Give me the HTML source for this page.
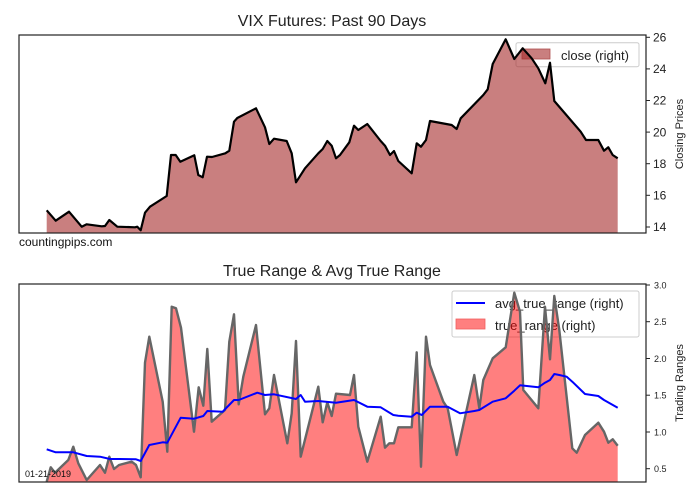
<!DOCTYPE html>
<html><head><meta charset="utf-8"><style>body{margin:0;background:#fff}svg{display:block}text{font-family:"Liberation Sans",sans-serif}</style></head><body>
<svg width="700" height="500" viewBox="0 0 700 500" xmlns="http://www.w3.org/2000/svg">
<rect width="700" height="500" fill="#fff"/>
<text x="332" y="26" font-size="16" text-anchor="middle" fill="#222">VIX Futures: Past 90 Days</text>
<rect x="516" y="42.7" width="123" height="24" rx="2" fill="#fff" fill-opacity="0.8" stroke="#ccc"/>
<rect x="522" y="49" width="28" height="10" fill="#a52a2a" fill-opacity="0.6" stroke="#b05050" stroke-width="0.8"/>
<text x="561" y="60" font-size="13" fill="#222">close (right)</text>
<polygon fill="#a52a2a" fill-opacity="0.6" points="46.7,233 46.7,210.3 55.7,220.7 69,211.7 81.7,226.7 86.7,224.3 101.7,226.3 105,226 109.3,220 117.3,226.7 135,227.3 137.3,226.7 140.7,230.3 145,212.7 150,206.7 166.7,196 171,155 175.7,155 180.3,161.7 194.3,155.3 198.3,175 202.7,177.3 207,156.7 212,157 225.3,153.3 229.3,150.7 234,121.7 237.3,118 256,108.3 265,127.3 269.3,144 274,138.7 286.7,141 291.7,153.3 296,182.3 305,168.3 318.3,153.3 322.7,149 327.3,141 331.7,145.7 336,158.3 340,155 349.3,142.3 354,125.7 358.3,130 367.3,124 380.7,141 385,145.7 390,155 394,151 398.3,161 411.7,173.3 416.7,143.3 421,146.7 426,140 430,121 451.7,125 456.7,129 460.7,118.3 483.3,95 487.7,89.3 492.7,64 505.7,39.3 514.3,59 522.7,48.3 531.7,58.3 538.3,68.3 545.3,83.3 550,62.7 554.3,101 580.7,131.7 586,140 598.3,140 604,150.7 608.3,147.3 612.7,155 617.7,158.3 617.7,233"/>
<polyline fill="none" stroke="#000" stroke-width="2.2" stroke-linejoin="round" points="46.7,210.3 55.7,220.7 69,211.7 81.7,226.7 86.7,224.3 101.7,226.3 105,226 109.3,220 117.3,226.7 135,227.3 137.3,226.7 140.7,230.3 145,212.7 150,206.7 166.7,196 171,155 175.7,155 180.3,161.7 194.3,155.3 198.3,175 202.7,177.3 207,156.7 212,157 225.3,153.3 229.3,150.7 234,121.7 237.3,118 256,108.3 265,127.3 269.3,144 274,138.7 286.7,141 291.7,153.3 296,182.3 305,168.3 318.3,153.3 322.7,149 327.3,141 331.7,145.7 336,158.3 340,155 349.3,142.3 354,125.7 358.3,130 367.3,124 380.7,141 385,145.7 390,155 394,151 398.3,161 411.7,173.3 416.7,143.3 421,146.7 426,140 430,121 451.7,125 456.7,129 460.7,118.3 483.3,95 487.7,89.3 492.7,64 505.7,39.3 514.3,59 522.7,48.3 531.7,58.3 538.3,68.3 545.3,83.3 550,62.7 554.3,101 580.7,131.7 586,140 598.3,140 604,150.7 608.3,147.3 612.7,155 617.7,158.3"/>
<rect x="19" y="35" width="627" height="198" fill="none" stroke="#222" stroke-width="1.2"/>
<g stroke="#222" stroke-width="1"><line x1="646" x2="650" y1="37.3" y2="37.3"/><line x1="646" x2="650" y1="68.9" y2="68.9"/><line x1="646" x2="650" y1="100.5" y2="100.5"/><line x1="646" x2="650" y1="132.1" y2="132.1"/><line x1="646" x2="650" y1="163.7" y2="163.7"/><line x1="646" x2="650" y1="195.3" y2="195.3"/><line x1="646" x2="650" y1="227" y2="227"/></g>
<g font-size="12" fill="#222"><text x="653" y="41.5">26</text><text x="653" y="73">24</text><text x="653" y="104.7">22</text><text x="653" y="136.3">20</text><text x="653" y="168">18</text><text x="653" y="199.5">16</text><text x="653" y="231">14</text></g>
<text transform="translate(683,134) rotate(-90)" font-size="11" text-anchor="middle" fill="#222">Closing Prices</text>
<text x="19" y="246" font-size="12" fill="#111">countingpips.com</text>

<text x="332" y="276" font-size="16" text-anchor="middle" fill="#222">True Range &amp; Avg True Range</text>
<rect x="452" y="291" width="187" height="46" rx="2" fill="#fff" fill-opacity="0.8" stroke="#ccc"/>
<line x1="456" x2="485" y1="303" y2="303" stroke="#0000ff" stroke-width="2"/>
<rect x="456" y="319" width="29" height="10" fill="#ff0000" fill-opacity="0.5" stroke="#f06060" stroke-width="0.8"/>
<text x="495" y="308" font-size="13" fill="#222">avg_true_range (right)</text>
<text x="495" y="330" font-size="13" fill="#222">true_range (right)</text>
<polygon fill="#ff0000" fill-opacity="0.5" points="46.7,482 46.7,481.7 50.7,467.3 55,472.7 68.3,460 73.3,446.7 78.3,463.3 86.7,480 100,465 105,472.7 109.3,456.7 114,469 119,465 131.7,461.7 136,465 140.7,477.3 145,362.7 149.3,336.7 162.7,401.7 167.3,451.7 171.7,306.7 176,308.3 181,327.7 194,431.7 198.7,387.3 203.3,405.7 207.3,349 211.7,421.7 225,410 229.3,341.7 234,314.3 238.7,404.3 243.3,376.7 256,325 265,414.3 269.3,408.3 274,375 287.3,443.3 291.7,413.3 296,341 300.7,456.7 318.3,386.7 322.7,422.3 327.3,402.3 331.7,416 336,393.7 350,395 354,375 358.3,426.7 367.3,461.7 380.7,416.7 385,447.7 389.3,443.3 394,443.3 398.3,427.3 411.7,427.3 416.7,352.3 421,466.7 426,336.7 430,365 443.3,401.7 447.7,408.3 456.7,455 474.3,375 479.3,408.3 483.3,380 492.7,358.3 505.7,347.3 514.3,292.7 520,311.7 523.3,390 538.3,408.3 545,306.7 550,359.3 554.3,296 559.3,330 572.3,448.3 576.7,452.7 585,435 598.3,422.7 604,431.7 608.3,442.7 612.7,439.3 617.7,445.7 617.7,482"/>
<polyline fill="none" stroke="#666" stroke-width="2.4" stroke-linejoin="round" points="46.7,481.7 50.7,467.3 55,472.7 68.3,460 73.3,446.7 78.3,463.3 86.7,480 100,465 105,472.7 109.3,456.7 114,469 119,465 131.7,461.7 136,465 140.7,477.3 145,362.7 149.3,336.7 162.7,401.7 167.3,451.7 171.7,306.7 176,308.3 181,327.7 194,431.7 198.7,387.3 203.3,405.7 207.3,349 211.7,421.7 225,410 229.3,341.7 234,314.3 238.7,404.3 243.3,376.7 256,325 265,414.3 269.3,408.3 274,375 287.3,443.3 291.7,413.3 296,341 300.7,456.7 318.3,386.7 322.7,422.3 327.3,402.3 331.7,416 336,393.7 350,395 354,375 358.3,426.7 367.3,461.7 380.7,416.7 385,447.7 389.3,443.3 394,443.3 398.3,427.3 411.7,427.3 416.7,352.3 421,466.7 426,336.7 430,365 443.3,401.7 447.7,408.3 456.7,455 474.3,375 479.3,408.3 483.3,380 492.7,358.3 505.7,347.3 514.3,292.7 520,311.7 523.3,390 538.3,408.3 545,306.7 550,359.3 554.3,296 559.3,330 572.3,448.3 576.7,452.7 585,435 598.3,422.7 604,431.7 608.3,442.7 612.7,439.3 617.7,445.7"/>
<polyline fill="none" stroke="#0000ff" stroke-width="2" stroke-linejoin="round" points="46.7,449.3 55.7,452.3 73.3,452.3 86.7,456 100,456.7 110,459 120,459 136,459.3 140.7,461 149.3,445 162.7,442.3 167.3,442.7 180.7,417.7 194,418.7 203.3,416 207.3,411 222.7,411.7 234,400 238.7,400 257.3,392.7 265,395 274,394.3 296,399 300.7,395 305,401.7 318.3,401 336,402.7 354,400 367.3,406.7 380.7,407.3 393.3,415 398.3,415.7 411.7,416.7 416.7,412.7 421.7,415 430,406.7 447.7,406.7 460,413.3 474.3,411 479.3,410 492.7,401.7 505.7,398.3 514.3,390.7 520,385.3 538.3,387.3 545,382.7 550,380 554.3,374 559.3,375 566.7,376.7 572.3,381.7 585,394 598.3,396 604,400 617.7,407.7"/>
<rect x="19" y="284" width="627" height="198" fill="none" stroke="#222" stroke-width="1.2"/>
<g stroke="#222" stroke-width="1"><line x1="646" x2="650" y1="285" y2="285"/><line x1="646" x2="650" y1="321.7" y2="321.7"/><line x1="646" x2="650" y1="358.5" y2="358.5"/><line x1="646" x2="650" y1="395.2" y2="395.2"/><line x1="646" x2="650" y1="432" y2="432"/><line x1="646" x2="650" y1="468.7" y2="468.7"/></g>
<g font-size="9" fill="#222"><text x="654" y="288.5">3.0</text><text x="654" y="325">2.5</text><text x="654" y="362">2.0</text><text x="654" y="398.5">1.5</text><text x="654" y="435.5">1.0</text><text x="654" y="472">0.5</text></g>
<text transform="translate(683,383) rotate(-90)" font-size="11" text-anchor="middle" fill="#222">Trading Ranges</text>
<text x="25" y="477" font-size="9" fill="#111">01-21-2019</text>
</svg>
</body></html>
